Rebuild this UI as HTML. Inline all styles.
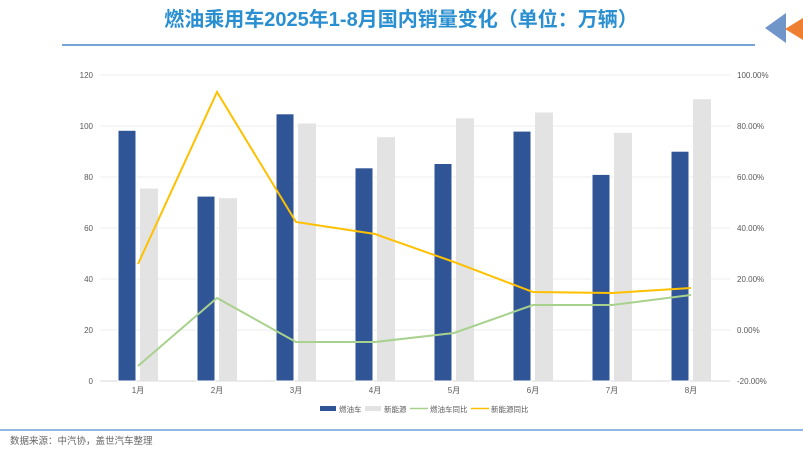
<!DOCTYPE html><html><head><meta charset="utf-8"><style>
body{margin:0;width:803px;height:449px;background:#fff;overflow:hidden;font-family:"Liberation Sans","Noto Sans CJK SC",sans-serif}
</style></head><body>
<svg width="803" height="449" xmlns="http://www.w3.org/2000/svg" font-family="Liberation Sans, Noto Sans CJK SC, sans-serif">
<text x="401" y="26" text-anchor="middle" font-size="20" font-weight="bold" fill="#2a8fd0">燃油乘用车2025年1-8月国内销量变化（单位：万辆）</text>
<line x1="62" y1="45" x2="755" y2="45" stroke="#4a86c8" stroke-width="1.5"/>
<polygon points="786,13 765,28 786,43" fill="#6f95c9"/>
<polygon points="803,18 785,29 803,40" fill="#ee7f30"/>
<g stroke="#eeeeee" stroke-width="1">
<line x1="100" y1="75" x2="730" y2="75"/><line x1="100" y1="126" x2="730" y2="126"/><line x1="100" y1="177" x2="730" y2="177"/><line x1="100" y1="228" x2="730" y2="228"/><line x1="100" y1="279" x2="730" y2="279"/><line x1="100" y1="330" x2="730" y2="330"/>
</g>
<line x1="100" y1="381" x2="730" y2="381" stroke="#d9d9d9"/>
<g font-size="8" fill="#595959" text-anchor="end">
<text x="93" y="78">120</text><text x="93" y="129">100</text><text x="93" y="180">80</text><text x="93" y="231">60</text><text x="93" y="282">40</text><text x="93" y="333">20</text><text x="93" y="384">0</text>
</g>
<g font-size="8" fill="#595959" text-anchor="start">
<text x="737" y="78">100.00%</text><text x="737" y="129">80.00%</text><text x="737" y="180">60.00%</text><text x="737" y="231">40.00%</text><text x="737" y="282">20.00%</text><text x="737" y="333">0.00%</text><text x="737" y="384">-20.00%</text>
</g>
<g fill="#2f5597" stroke="#fff" stroke-width="1">
<rect x="118" y="130.3" width="18" height="250.7"/>
<rect x="197" y="196.1" width="18" height="184.9"/>
<rect x="276" y="113.8" width="18" height="267.2"/>
<rect x="355" y="167.8" width="18" height="213.2"/>
<rect x="434" y="163.5" width="18" height="217.5"/>
<rect x="513" y="131.1" width="18" height="249.9"/>
<rect x="592" y="174.4" width="18" height="206.6"/>
<rect x="671" y="151.2" width="18" height="229.8"/>
</g>
<g fill="#e3e3e3">
<rect x="140" y="188.5" width="18" height="192.5"/>
<rect x="219" y="198.2" width="18" height="182.8"/>
<rect x="298" y="123.5" width="18" height="257.5"/>
<rect x="377" y="137.2" width="18" height="243.8"/>
<rect x="456" y="118.3" width="18" height="262.7"/>
<rect x="535" y="112.5" width="18" height="268.5"/>
<rect x="614" y="132.9" width="18" height="248.1"/>
<rect x="693" y="99.2" width="18" height="281.8"/>
</g>
<polyline fill="none" stroke="#a9d18e" stroke-width="2" points="138,366 217,298 296,342 375,342 454,333 533,305 612,305 691,295"/>
<polyline fill="none" stroke="#ffc000" stroke-width="2" points="138,264 217,92 296,222 375,234 454,262 533,292 612,293 691,288"/>
<g font-size="8" fill="#595959" text-anchor="middle">
<text x="138" y="393">1月</text><text x="217" y="393">2月</text><text x="296" y="393">3月</text><text x="375" y="393">4月</text><text x="454" y="393">5月</text><text x="533" y="393">6月</text><text x="612" y="393">7月</text><text x="691" y="393">8月</text>
</g>
<g font-size="7.5" fill="#595959">
<rect x="320" y="406" width="16" height="5" fill="#2f5597"/><text x="339" y="412">燃油车</text>
<rect x="365" y="406" width="16" height="5" fill="#e3e3e3"/><text x="384" y="412">新能源</text>
<line x1="410" y1="408.5" x2="428" y2="408.5" stroke="#a9d18e" stroke-width="1.5"/><text x="430" y="412">燃油车同比</text>
<line x1="471" y1="408.5" x2="489" y2="408.5" stroke="#ffc000" stroke-width="1.5"/><text x="491" y="412">新能源同比</text>
</g>
<line x1="0" y1="430" x2="803" y2="430" stroke="#6f9fd8" stroke-width="1.5"/>
<text x="10" y="444" font-size="9.5" fill="#666">数据来源：中汽协，盖世汽车整理</text>
</svg>
</body></html>
